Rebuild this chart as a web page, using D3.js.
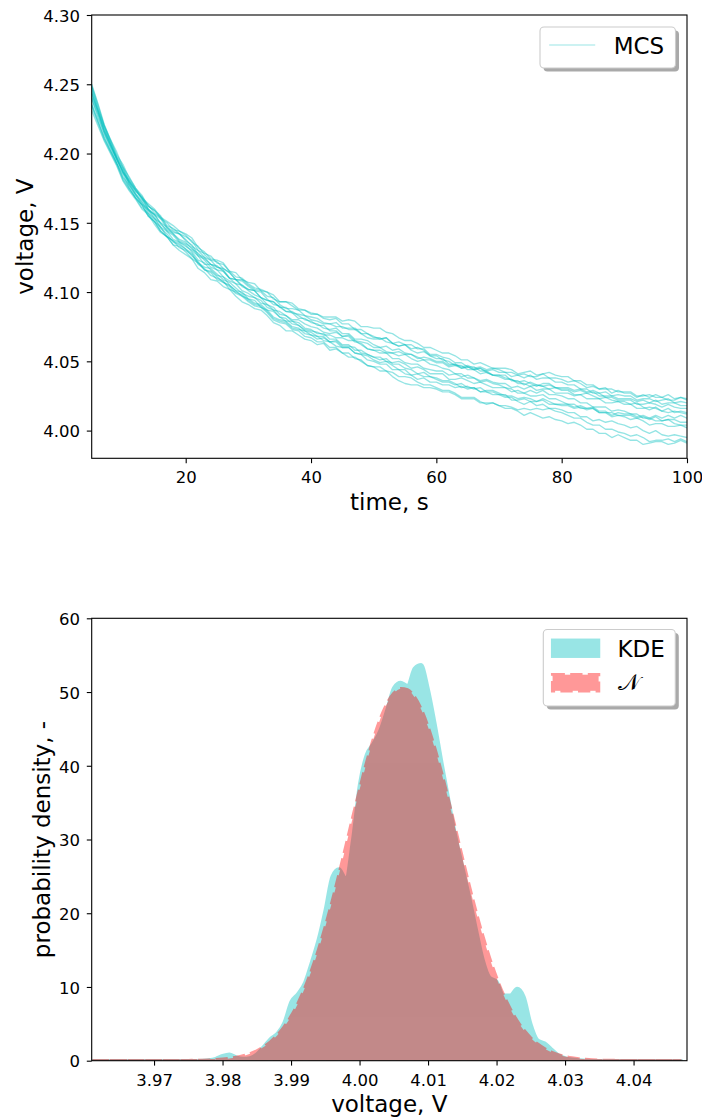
<!DOCTYPE html>
<html>
<head>
<meta charset="utf-8">
<script src="https://cdn.jsdelivr.net/npm/d3@7"></script>
<style>
  body { margin: 0; background: #fff; }
  svg text { font-family: "DejaVu Sans", sans-serif; }
</style>
</head>
<body>
<svg id="fig" width="702" height="1118"></svg>
<script>
// ---------------------------------------------------------------
// data: Monte-Carlo voltage runs (mV)
// ---------------------------------------------------------------
const times = [5,6,7,8,9,10,11,12,13,14,15,16,17,18,19,20,21,22,23,24,25,26,27,28,29,30,31,32,33,34,35,36,37,38,39,40,41,42,43,44,45,46,47,48,49,50,51,52,53,54,55,56,57,58,59,60,61,62,63,64,65,66,67,68,69,70,71,72,73,74,75,76,77,78,79,80,81,82,83,84,85,86,87,88,89,90,91,92,93,94,95,96,97,98,99,100];

const run01 = [4250,4236,4221,4210,4201,4190,4183,4175,4168,4164,4160,4154,4151,4148,4144,4142,4139,4132,4129,4124,4123,4121,4115,4111,4110,4106,4103,4102,4100,4095,4093,4093,4090,4087,4087,4084,4084,4082,4082,4082,4079,4080,4079,4075,4075,4074,4074,4071,4070,4067,4065,4065,4063,4060,4060,4058,4056,4056,4054,4051,4051,4048,4049,4047,4045,4045,4045,4044,4041,4042,4043,4040,4041,4042,4040,4039,4039,4036,4036,4033,4033,4030,4030,4030,4028,4028,4028,4025,4025,4026,4024,4024,4022,4022,4024,4022];
const run02 = [4247,4232,4219,4208,4197,4189,4179,4173,4168,4160,4156,4153,4146,4143,4142,4137,4134,4127,4125,4123,4118,4117,4114,4109,4109,4105,4102,4101,4097,4096,4091,4088,4088,4087,4083,4082,4081,4078,4077,4078,4074,4074,4074,4070,4067,4066,4066,4067,4063,4061,4062,4059,4060,4058,4054,4054,4051,4050,4047,4047,4044,4044,4041,4042,4040,4039,4037,4037,4035,4036,4034,4032,4034,4034,4031,4031,4031,4029,4030,4028,4029,4027,4028,4025,4026,4025,4025,4022,4023,4023,4021,4022,4023,4020,4021,4020];
const run03 = [4243,4231,4216,4206,4195,4187,4177,4170,4163,4159,4153,4146,4142,4136,4134,4131,4128,4121,4118,4117,4113,4109,4107,4103,4099,4097,4096,4092,4091,4087,4086,4083,4080,4080,4077,4075,4074,4071,4070,4071,4068,4069,4065,4064,4063,4060,4060,4057,4056,4057,4055,4055,4053,4051,4051,4049,4049,4046,4047,4045,4046,4044,4045,4043,4044,4042,4042,4039,4040,4038,4040,4037,4038,4038,4035,4035,4033,4033,4030,4030,4027,4027,4024,4024,4022,4022,4022,4019,4019,4020,4019,4017,4019,4017,4016,4016];
const run04 = [4240,4226,4215,4205,4196,4186,4180,4173,4168,4160,4156,4149,4145,4142,4137,4135,4132,4126,4124,4120,4119,4115,4110,4109,4105,4102,4101,4096,4094,4093,4089,4086,4086,4083,4080,4079,4076,4076,4072,4072,4068,4068,4064,4063,4059,4058,4056,4056,4052,4052,4049,4048,4048,4045,4044,4043,4043,4040,4041,4039,4040,4038,4036,4037,4035,4034,4034,4031,4032,4030,4032,4029,4030,4030,4027,4027,4027,4025,4026,4023,4023,4023,4020,4020,4021,4019,4019,4016,4016,4017,4016,4014,4016,4013,4014,4013];
const run05 = [4236,4224,4211,4202,4193,4182,4175,4168,4163,4155,4151,4144,4140,4137,4132,4130,4127,4120,4117,4112,4110,4108,4102,4100,4098,4094,4091,4090,4086,4081,4079,4078,4074,4073,4072,4069,4066,4067,4064,4061,4060,4060,4056,4055,4054,4051,4049,4050,4047,4044,4044,4040,4041,4039,4039,4037,4035,4035,4033,4034,4031,4031,4028,4029,4029,4027,4025,4025,4023,4024,4023,4021,4023,4021,4019,4019,4019,4017,4018,4016,4017,4014,4014,4011,4013,4012,4012,4010,4011,4009,4011,4009,4011,4009,4011,4009];
const run06 = [4231,4220,4209,4200,4191,4180,4173,4167,4160,4156,4149,4143,4140,4134,4130,4127,4124,4117,4114,4109,4108,4104,4102,4097,4093,4091,4088,4087,4083,4078,4076,4072,4072,4069,4066,4065,4062,4063,4058,4059,4056,4053,4053,4050,4047,4046,4046,4043,4042,4039,4039,4038,4035,4033,4033,4031,4029,4029,4027,4024,4024,4024,4021,4019,4020,4018,4016,4016,4014,4011,4013,4011,4009,4010,4008,4007,4005,4006,4004,4001,4001,3998,3998,3995,3997,3995,3993,3993,3990,3991,3992,3992,3990,3991,3993,3991];
const run07 = [4248,4233,4220,4209,4198,4190,4180,4174,4169,4162,4159,4153,4150,4145,4144,4141,4136,4133,4127,4123,4122,4117,4114,4109,4108,4104,4101,4100,4095,4091,4090,4086,4085,4081,4081,4078,4077,4074,4073,4074,4070,4070,4066,4066,4065,4062,4060,4061,4058,4059,4056,4055,4052,4053,4052,4050,4050,4047,4048,4046,4047,4045,4046,4044,4045,4044,4042,4042,4040,4041,4039,4039,4041,4038,4038,4037,4035,4036,4034,4031,4032,4030,4031,4027,4029,4027,4027,4024,4026,4024,4026,4024,4026,4023,4024,4023];
const run08 = [4241,4230,4216,4206,4197,4187,4181,4174,4167,4163,4157,4154,4147,4144,4142,4138,4133,4130,4125,4120,4118,4116,4110,4106,4105,4101,4098,4096,4091,4089,4084,4083,4079,4078,4074,4073,4070,4070,4066,4066,4062,4062,4058,4058,4055,4053,4051,4052,4048,4048,4045,4044,4041,4042,4039,4038,4036,4036,4034,4031,4032,4030,4031,4028,4026,4026,4024,4024,4021,4019,4021,4018,4019,4016,4016,4015,4013,4013,4010,4010,4007,4008,4006,4007,4005,4004,4002,4003,4000,3998,4000,3997,3996,3997,3996,3995];
const run09 = [4235,4223,4212,4202,4193,4183,4177,4170,4165,4157,4153,4150,4144,4138,4136,4133,4130,4126,4120,4120,4116,4115,4110,4109,4104,4102,4101,4096,4094,4093,4089,4089,4085,4084,4083,4080,4079,4077,4077,4075,4075,4073,4073,4070,4070,4067,4067,4064,4063,4064,4062,4062,4059,4059,4055,4055,4053,4052,4049,4049,4046,4046,4043,4043,4040,4040,4038,4037,4034,4034,4032,4033,4032,4030,4031,4029,4029,4026,4026,4027,4025,4023,4024,4022,4021,4021,4019,4020,4017,4015,4017,4014,4013,4014,4013,4012];
const run10 = [4244,4229,4217,4207,4196,4186,4179,4171,4164,4160,4154,4147,4144,4141,4136,4134,4129,4123,4121,4116,4112,4111,4105,4101,4100,4095,4092,4091,4087,4082,4080,4079,4075,4074,4070,4069,4068,4065,4064,4065,4061,4061,4060,4056,4055,4053,4053,4050,4049,4050,4048,4045,4046,4044,4041,4041,4041,4037,4037,4038,4036,4034,4035,4033,4031,4031,4031,4028,4029,4027,4029,4027,4029,4026,4026,4025,4023,4023,4020,4020,4017,4017,4017,4014,4015,4014,4012,4012,4009,4009,4007,4007,4008,4005,4004,4004];
const run11 = [4239,4228,4214,4204,4193,4185,4175,4168,4161,4157,4151,4144,4140,4134,4133,4129,4124,4121,4116,4115,4111,4107,4105,4101,4097,4095,4094,4089,4087,4086,4082,4079,4079,4076,4073,4072,4071,4069,4069,4067,4067,4065,4065,4062,4059,4058,4058,4056,4056,4054,4055,4052,4050,4051,4048,4047,4045,4044,4041,4041,4038,4038,4035,4036,4034,4033,4031,4030,4027,4027,4025,4025,4026,4023,4023,4021,4019,4019,4016,4016,4016,4013,4013,4010,4011,4010,4008,4009,4007,4004,4005,4005,4003,4003,4004,4002];
const run12 = [4249,4235,4220,4210,4199,4192,4182,4175,4170,4162,4159,4155,4148,4146,4142,4140,4137,4130,4128,4126,4121,4120,4115,4114,4109,4107,4106,4101,4100,4098,4093,4093,4092,4088,4087,4085,4084,4081,4080,4081,4077,4077,4073,4073,4070,4068,4066,4067,4063,4061,4062,4058,4056,4057,4054,4052,4052,4048,4048,4045,4046,4044,4045,4042,4040,4040,4040,4036,4036,4033,4035,4033,4032,4033,4031,4030,4030,4028,4029,4027,4028,4025,4025,4025,4023,4023,4023,4021,4022,4020,4022,4019,4020,4020,4018,4018];
const run13 = [4234,4222,4210,4201,4192,4181,4174,4168,4163,4155,4151,4147,4140,4137,4135,4131,4126,4122,4116,4114,4109,4107,4104,4099,4097,4093,4090,4089,4085,4080,4078,4077,4073,4072,4068,4067,4064,4064,4060,4060,4056,4056,4052,4051,4047,4046,4043,4043,4039,4036,4034,4033,4033,4031,4031,4030,4028,4028,4026,4023,4023,4023,4020,4020,4020,4018,4018,4017,4015,4016,4015,4016,4015,4016,4014,4013,4011,4009,4009,4006,4004,4004,4001,4001,3999,3998,3996,3997,3995,3992,3993,3993,3994,3992,3994,3992];
const run14 = [4245,4231,4218,4207,4196,4188,4178,4171,4166,4159,4156,4150,4147,4142,4138,4136,4131,4128,4123,4118,4116,4111,4108,4106,4101,4099,4096,4094,4089,4087,4082,4081,4077,4076,4072,4071,4068,4068,4064,4064,4060,4060,4056,4055,4051,4050,4048,4048,4044,4044,4041,4040,4037,4038,4035,4035,4033,4033,4031,4032,4030,4031,4028,4028,4028,4026,4026,4022,4022,4023,4021,4021,4022,4019,4019,4018,4018,4016,4017,4015,4016,4013,4013,4013,4011,4011,4011,4009,4010,4008,4010,4007,4008,4008,4006,4006];

const runs = [run01, run02, run03, run04, run05, run06, run07, run08, run09, run10, run11, run12, run13, run14];

const voltTicks = [4000, 4050, 4100, 4150, 4200, 4250, 4300];
const voltTickLabels = ["4.00", "4.05", "4.10", "4.15", "4.20", "4.25", "4.30"];
const timeTicks = [20, 40, 60, 80, 100];
const timeTickLabels = ["20", "40", "60", "80", "100"];

// ---------------------------------------------------------------
// data: densities of the final voltage (V -> 1/V)
// ---------------------------------------------------------------
const gridV = [3.961,3.962,3.963,3.964,3.965,3.966,3.967,3.968,3.969,3.970,3.971,3.972,3.973,3.974,3.975,3.976,3.977,3.978,3.979,3.980,3.981,3.982,3.983,3.984,3.985,3.986,3.987,3.988,3.989,3.990,3.991,3.992,3.993,3.994,3.995,3.996,3.997,3.998,3.999,4.000,4.001,4.002,4.003,4.004,4.005,4.006,4.007,4.008,4.009,4.010,4.011,4.012,4.013,4.014,4.015,4.016,4.017,4.018,4.019,4.020,4.021,4.022,4.023,4.024,4.025,4.026,4.027,4.028,4.029,4.030,4.031,4.032,4.033,4.034,4.035,4.036,4.037,4.038,4.039,4.040,4.041,4.042,4.043,4.044,4.045,4.046,4.047];

const kde = [0,0,0,0,0,0,0,0,0,0,0,0,0,0,0,
  0.01,0.03,0.1,
  0.3,0.7,0.9,0.5,0.3,0.4,0.9,1.9,3.0,3.7,
  5.2,8.0,9.1,10.6,13.4,16.5,20.5,25.0,26.0,24.8,
  30.0,37.5,41.5,43.0,44.8,47.6,50.6,51.3,50.9,53.2,
  53.7,50.5,45.8,40.5,35.5,30.6,26.5,22.4,18.0,13.8,
  11.3,10.8,8.9,8.9,9.8,8.7,5.0,2.8,2.4,1.6,
  0.8,0.4,0.2,0.1,0.05,
  0,0,0,0,0,0,0,0,0,0,0,0,0,0];

const normal = [0,0,0,0,0,0,0,0,0,0,0,0,0,0,
  0.02,0.03,0.05,0.08,0.13,0.20,0.30,0.45,0.65,0.94,
  1.33,1.86,2.55,3.45,4.59,6.01,7.74,9.82,12.25,15.03,
  18.16,21.58,25.26,29.08,32.95,36.74,40.32,43.55,46.28,48.40,
  49.82,50.46,50.30,49.34,47.64,45.25,42.31,38.93,35.25,31.41,
  27.54,23.77,20.18,16.87,13.87,11.23,8.94,7.01,5.41,4.11,
  3.07,2.25,1.63,1.16,0.81,0.56,0.38,0.25,0.17,0.11,
  0.07,0.04,0.03,0.02,0.01,
  0,0,0,0,0,0,0,0];

const densTicks = [0, 10, 20, 30, 40, 50, 60];
const densTickLabels = ["0", "10", "20", "30", "40", "50", "60"];
const vTicks = [3.97, 3.98, 3.99, 4.00, 4.01, 4.02, 4.03, 4.04];
const vTickLabels = ["3.97", "3.98", "3.99", "4.00", "4.01", "4.02", "4.03", "4.04"];

// ---------------------------------------------------------------
// layout
// ---------------------------------------------------------------
const svg = d3.select("#fig");
const left = 91.7, right = 687;
const top1 = 15, bottom1 = 458.3;
const top2 = 618.3, bottom2 = 1060.7;
const cyan = "#00bfbf", red = "#ff0000";
const tickLen = 4.9;

const defs = svg.append("defs");
defs.append("clipPath").attr("id", "clip1")
  .append("rect").attr("x", left).attr("y", top1).attr("width", right - left).attr("height", bottom1 - top1);
defs.append("clipPath").attr("id", "clip2")
  .append("rect").attr("x", left).attr("y", top2).attr("width", right - left).attr("height", bottom2 - top2);

function styleAxis(g, vertical) {
  g.select(".domain").remove();
  g.attr("font-family", null).attr("font-size", null);
  g.selectAll(".tick line").attr("stroke", "#000").attr("stroke-width", 1.1);
  g.selectAll(".tick text")
    .attr("fill", "#000")
    .style("font-size", "16.5px");
  if (vertical) g.selectAll(".tick text").attr("dy", "0.38em");
}

function frame(y0, y1) {
  svg.append("rect")
    .attr("x", left).attr("y", y0)
    .attr("width", right - left).attr("height", y1 - y0)
    .attr("fill", "none").attr("stroke", "#000").attr("stroke-width", 1.1);
}

function legendBox(x, y, w, h) {
  svg.append("rect")
    .attr("x", x + 3.5).attr("y", y + 3.5).attr("width", w).attr("height", h)
    .attr("rx", 4).attr("fill", "#a9a9a9");
  svg.append("rect")
    .attr("x", x).attr("y", y).attr("width", w).attr("height", h)
    .attr("rx", 4).attr("fill", "#fff").attr("stroke", "#cccccc").attr("stroke-width", 1.1);
}

// ---------------------------------------------------------------
// 1. MCS voltage trajectories
// ---------------------------------------------------------------
const x1 = d3.scaleLinear().domain([5, 100]).range([left, right]);
const y1 = d3.scaleLinear().domain([3980, 4300]).range([bottom1, top1]);

const line = d3.line()
  .x((d, i) => x1(times[i]))
  .y(d => y1(d));

svg.append("g")
  .attr("clip-path", "url(#clip1)")
  .selectAll("path")
  .data(runs)
  .enter()
  .append("path")
    .attr("d", line)
    .attr("fill", "none")
    .attr("stroke", cyan)
    .attr("stroke-opacity", 0.42)
    .attr("stroke-width", 1.35)
    .attr("stroke-linejoin", "round");

svg.append("g")
  .attr("transform", `translate(${left},0)`)
  .call(d3.axisLeft(y1).tickValues(voltTicks)
    .tickFormat((d, i) => voltTickLabels[i]).tickSize(tickLen).tickPadding(6.8))
  .call(g => styleAxis(g, true));

svg.append("g")
  .attr("transform", `translate(0,${bottom1})`)
  .call(d3.axisBottom(x1).tickValues(timeTicks)
    .tickFormat((d, i) => timeTickLabels[i]).tickSize(tickLen).tickPadding(8.2))
  .call(g => styleAxis(g, false));

frame(top1, bottom1);

svg.append("text")
  .attr("x", (left + right) / 2).attr("y", 510)
  .attr("text-anchor", "middle").style("font-size", "23px")
  .text("time, s");

svg.append("text")
  .attr("transform", `translate(33,${(top1 + bottom1) / 2}) rotate(-90)`)
  .attr("text-anchor", "middle").style("font-size", "23px")
  .text("voltage, V");

legendBox(540, 27, 135.5, 41);
svg.append("line")
  .attr("x1", 549.2).attr("x2", 595.2).attr("y1", 45).attr("y2", 45)
  .attr("stroke", cyan).attr("stroke-opacity", 0.4).attr("stroke-width", 1.1);
svg.append("text")
  .attr("x", 613.7).attr("y", 53.5).style("font-size", "23px")
  .text("MCS");

// ---------------------------------------------------------------
// 2. KDE vs normal fit
// ---------------------------------------------------------------
const x2 = d3.scaleLinear().domain([3.9609, 4.0478]).range([left, right]);
const y2 = d3.scaleLinear().domain([0, 60]).range([bottom2, top2]);

const area = vals => d3.area()
  .x((d, i) => x2(gridV[i]))
  .y0(y2(0))
  .y1(d => y2(d))
  .curve(d3.curveMonotoneX)(vals);

const plot2 = svg.append("g").attr("clip-path", "url(#clip2)");

plot2.append("g").attr("opacity", 0.4)
  .append("path")
    .attr("d", area(kde))
    .attr("fill", cyan)
    .attr("stroke", cyan)
    .attr("stroke-width", 3.3)
    .attr("stroke-linejoin", "round");

plot2.append("g").attr("opacity", 0.4)
  .append("path")
    .attr("d", area(normal))
    .attr("fill", red)
    .attr("stroke", red)
    .attr("stroke-width", 3.3)
    .attr("stroke-dasharray", "12.3 5.3");

svg.append("g")
  .attr("transform", `translate(${left},0)`)
  .call(d3.axisLeft(y2).tickValues(densTicks)
    .tickFormat((d, i) => densTickLabels[i]).tickSize(tickLen).tickPadding(6.8))
  .call(g => styleAxis(g, true));

svg.append("g")
  .attr("transform", `translate(0,${bottom2})`)
  .call(d3.axisBottom(x2).tickValues(vTicks)
    .tickFormat((d, i) => vTickLabels[i]).tickSize(tickLen).tickPadding(8.2))
  .call(g => styleAxis(g, false));

frame(top2, bottom2);

svg.append("text")
  .attr("x", (left + right) / 2).attr("y", 1112)
  .attr("text-anchor", "middle").style("font-size", "23px")
  .text("voltage, V");

svg.append("text")
  .attr("transform", `translate(49.5,${(top2 + bottom2) / 2}) rotate(-90)`)
  .attr("text-anchor", "middle").style("font-size", "23px")
  .text("probability density, -");

legendBox(543.3, 629.5, 132, 76.5);
svg.append("g").attr("opacity", 0.4)
  .append("rect")
    .attr("x", 552.6).attr("y", 640.2).attr("width", 46).attr("height", 16.1)
    .attr("fill", cyan).attr("stroke", cyan).attr("stroke-width", 3.3);
svg.append("g").attr("opacity", 0.4)
  .append("rect")
    .attr("x", 552.6).attr("y", 674.7).attr("width", 46).attr("height", 16.1)
    .attr("fill", red).attr("stroke", red).attr("stroke-width", 3.3)
    .attr("stroke-dasharray", "12.3 5.3");
svg.append("text")
  .attr("x", 617.5).attr("y", 656.5).style("font-size", "23px")
  .text("KDE");
svg.append("text")
  .attr("x", 618).attr("y", 690).style("font-size", "23px")
  .text("𝒩");
</script>
</body>
</html>
